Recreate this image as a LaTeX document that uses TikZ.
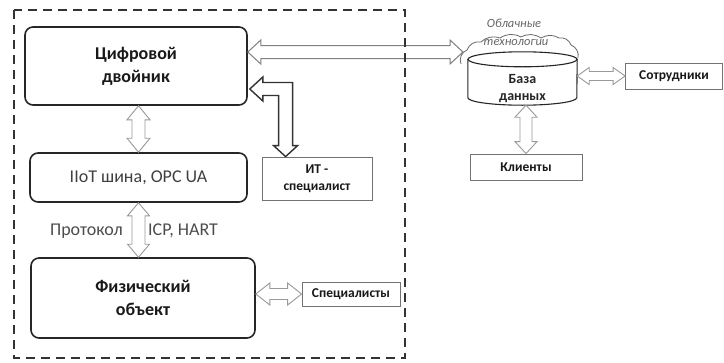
\documentclass[tikz,border=0pt]{standalone}
\usepackage{fontspec}
\setmainfont{Carlito}
\usetikzlibrary{calc}

% hollow two-headed block arrow between two points
% #1 style, #2/#3 tips, #4 shaft half-width, #5 head half-width, #6 head length
\newcommand{\biarrow}[6]{%
  \draw[#1] (#2)
    -- ($(#2)!#6!(#3)!#5!90:(#3)$)
    -- ($(#2)!#6!(#3)!#4!90:(#3)$)
    -- ($(#3)!#6!(#2)!#4!-90:(#2)$)
    -- ($(#3)!#6!(#2)!#5!-90:(#2)$)
    -- (#3)
    -- ($(#3)!#6!(#2)!#5!90:(#2)$)
    -- ($(#3)!#6!(#2)!#4!90:(#2)$)
    -- ($(#2)!#6!(#3)!#4!-90:(#3)$)
    -- ($(#2)!#6!(#3)!#5!-90:(#3)$)
    -- cycle;}

\tikzset{
  twinbox/.style={draw=black!85, line width=1.6pt, rounded corners=8pt,
    fill=white, align=center, inner sep=0pt},
  bigbold/.style={font=\fontsize{18}{23}\selectfont\bfseries, text=black!90},
  rolebox/.style={draw=black!55, line width=0.8pt, fill=white, align=center,
    inner sep=0pt, font=\fontsize{13.5}{17}\selectfont\bfseries, text=black!90},
  pale arrow/.style={draw=black!40, line width=0.9pt, fill=white, line join=miter},
  link arrow/.style={draw=black!50, line width=1pt, fill=white, line join=miter},
  dark arrow/.style={draw=black!80, line width=1.4pt, fill=white, line join=miter},
  sidelabel/.style={font=\fontsize{18}{22}\selectfont, text=black!70, inner sep=0pt},
  cloudtext/.style={font=\fontsize{12.5}{14}\selectfont\itshape, text=black!60, inner sep=0pt},
  cloudline/.style={draw=black!60, line width=0.8pt},
  cylline/.style={draw=black!85, line width=1.1pt, fill=white},
  frame/.style={draw=black!80, line width=2.2pt, dash pattern=on 9pt off 6pt},
}

\begin{document}
\begin{tikzpicture}[x=1pt,y=-1pt]
\useasboundingbox (0,0) rectangle (724,362);

% --- enterprise side ---
\node[twinbox, bigbold, minimum width=222pt, minimum height=78pt] (dt) at (136,66) {Цифровой\\двойник};
\node[twinbox, minimum width=217pt, minimum height=49pt,
      font=\fontsize{18}{22}\selectfont, text=black!75] (iiot) at (138.5,177.5) {IIoT шина, OPC UA};
\node[twinbox, bigbold, minimum width=224pt, minimum height=80pt] (phys) at (143,298) {Физический\\объект};
\node[rolebox, minimum width=110pt, minimum height=43pt] (it) at (317,178.5) {ИТ -\\специалист};
\node[rolebox, minimum width=98pt, minimum height=24pt] (spec) at (351,294) {Специалисты};

\node[sidelabel, anchor=east] (proto) at (123,231) {Протокол};
\node[sidelabel, anchor=west] (icp) at (148,231) {ICP, HART};

% --- cloud side ---
\node[cloudtext] (cl1) at (514,23) {Облачные};
\node[cloudtext] (cl2) at (516,43) {технологии};
\draw[cloudline] (461,64) to[bend left=45] (467,50) to[bend left=40] (481,42)
  to[bend left=30] (500,38) to[bend left=30] (521,37) to[bend left=30] (541,38)
  to[bend left=30] (559,38) to[bend left=40] (571,45) to[bend left=40] (578,58);

\node[minimum width=109pt, minimum height=53pt, inner sep=0pt] (db) at (522.5,78.5) {};
\draw[cylline] ($(db.north west)+(0,7.5)$) -- ($(db.south west)+(0,-7.5)$)
  arc[start angle=180, end angle=360, x radius=54.5pt, y radius=7.5pt]
  -- ($(db.north east)+(0,7.5)$) -- cycle;
\draw[cylline] ($(db.north)+(0,7.5)$) ellipse[x radius=54.5pt, y radius=7.5pt];
\node[font=\fontsize{14}{17}\selectfont\bfseries, text=black!85, align=center, inner sep=0pt]
  (dbtext) at (522.5,88.5) {База\\данных};

\node[rolebox, minimum width=97pt, minimum height=26pt] (sotr) at (674,76) {Сотрудники};
\node[rolebox, minimum width=112pt, minimum height=26pt] (klient) at (526,167) {Клиенты};

% --- connectors ---
\coordinate (ylink) at (0,52);
\coordinate (dbin) at (463,52);
\coordinate (yit) at (0,89);
\coordinate (itL) at ($(dt.east |- yit)+(2,0)$);
\coordinate (itD) at ($(it.north west)+(24,0)$);

\biarrow{pale arrow}{iiot.north |- dt.south}{iiot.north}{6.5pt}{11.5pt}{14pt}
\biarrow{pale arrow}{iiot.south}{iiot.south |- phys.north}{6.5pt}{11pt}{13pt}
\biarrow{pale arrow}{phys.east |- spec.west}{spec.west}{5.5pt}{11pt}{14pt}
\biarrow{link arrow}{dt.east |- ylink}{dbin}{6.5pt}{12pt}{13pt}
\biarrow{pale arrow}{db.east |- sotr.west}{sotr.west}{4.5pt}{8.5pt}{12pt}
\biarrow{pale arrow}{klient.north |- db.south}{klient.north}{6pt}{11pt}{12pt}

% L-shaped link between the twin and the IT specialist
\draw[dark arrow] let \p1=(itL), \p2=(itD) in
  (\p1) -- ++(13pt,12pt) -- ++(0,-5.5pt)
  -- (\x2+7pt,\y1+6.5pt) -- (\x2+7pt,\y2+11pt) -- ++(5pt,0)
  -- (\p2)
  -- (\x2-12pt,\y2+11pt) -- ++(5pt,0)
  -- (\x2-7pt,\y1-6.5pt) -- (\x1+13pt,\y1-6.5pt) -- ++(0,-5.5pt) -- cycle;

% enterprise boundary
\draw[frame] (14,10) rectangle (405,358);
\end{tikzpicture}
\end{document}
